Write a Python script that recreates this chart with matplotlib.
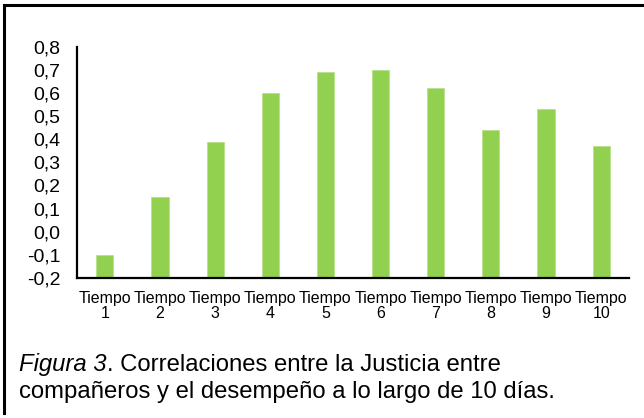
import matplotlib
matplotlib.use("Agg")
import matplotlib.pyplot as plt
from matplotlib.lines import Line2D

categories = ["Tiempo\n1", "Tiempo\n2", "Tiempo\n3", "Tiempo\n4", "Tiempo\n5",
              "Tiempo\n6", "Tiempo\n7", "Tiempo\n8", "Tiempo\n9", "Tiempo\n10"]
values = [-0.10, 0.15, 0.39, 0.60, 0.69, 0.70, 0.62, 0.44, 0.53, 0.37]
yticks = [-0.2, -0.1, 0.0, 0.1, 0.2, 0.3, 0.4, 0.5, 0.6, 0.7, 0.8]
ytick_labels = ["-0,2", "-0,1", "0,0", "0,1", "0,2", "0,3", "0,4", "0,5", "0,6", "0,7", "0,8"]
base = -0.2

plt.rcParams['font.family'] = ['Liberation Sans', 'DejaVu Sans']

fig = plt.figure(figsize=(6.44, 4.18), dpi=100)
ax = fig.add_axes([77.3/644, 1-278/418, (628.7-77.3)/644, (278-46.7)/418])

x = list(range(len(values)))
ax.bar(x, [v - base for v in values], bottom=base, width=0.31, color="#92D050",
       edgecolor="#b8e08f", linewidth=0.6)

ax.set_xlim(-0.5, len(values) - 0.5)
ax.set_ylim(-0.2, 0.8)
ax.set_yticks(yticks)
ax.set_yticklabels(ytick_labels, fontsize=14)
ax.set_xticks(x)
ax.set_xticklabels(categories, fontsize=11.5, linespacing=1.0)
ax.tick_params(axis='both', length=0)
ax.tick_params(axis='y', pad=12)
ax.tick_params(axis='x', pad=9)
for s in ["top", "right"]:
    ax.spines[s].set_visible(False)
for s in ["left", "bottom"]:
    ax.spines[s].set_linewidth(1.6)
    ax.spines[s].set_color("black")

# frame lines (top and left)
fig.add_artist(Line2D([4/644, 1.0], [1-5/418, 1-5/418], color="black", linewidth=2.2,
                      transform=fig.transFigure))
fig.add_artist(Line2D([4/644, 4/644], [1-5/418, 1-413/418], color="black", linewidth=2.2,
                      transform=fig.transFigure))

# caption
fs = 17.2
fig.text(19/644, 1-371/418, "Figura 3", fontsize=fs, style="italic", va="baseline", ha="left")
t = fig.text(19/644, 1-371/418, "", fontsize=fs, va="baseline")
fig.canvas.draw()
r = fig.texts[0].get_window_extent()
t.set_text(". Correlaciones entre la Justicia entre")
t.set_x(r.x1/644 + 0.5/644)
fig.text(19/644, 1-398/418, "compañeros y el desempeño a lo largo de 10 días.", fontsize=fs,
         va="baseline", ha="left")

fig.savefig("out.png", dpi=100)
